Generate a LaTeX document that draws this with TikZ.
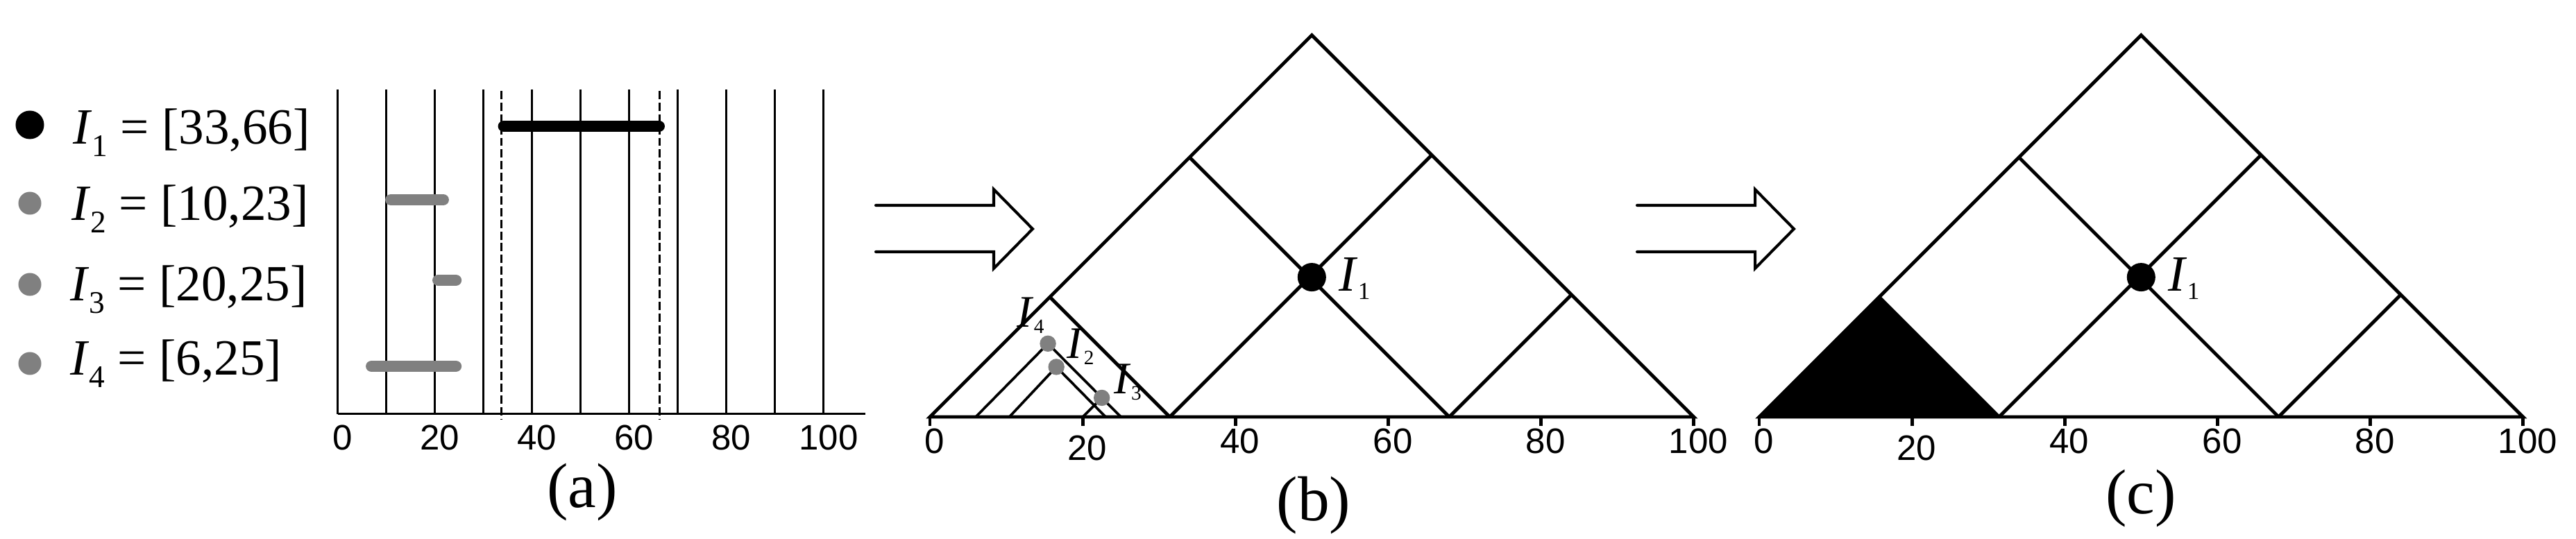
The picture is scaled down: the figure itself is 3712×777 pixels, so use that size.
\documentclass[tikz,border=0pt]{standalone}
\usepackage{fontspec}
\setmainfont{Liberation Serif}
\setsansfont{Liberation Sans}
\usepackage{graphicx}
\definecolor{ivgray}{gray}{0.5}
\newcommand{\Iv}[3]{\textit{I}\raisebox{#3}{\scalebox{#2}{#1}}}

\begin{document}
\begin{tikzpicture}[x=0.01cm, y=-0.01cm,
		vline/.style={line width=0.85pt},
		dline/.style={line width=0.85pt, dash pattern=on 3.4pt off 1.4pt},
		tri/.style={line width=1.4pt},
		ivline/.style={line width=1.05pt},
		ivbar/.style={line width=4.8pt, line cap=round},
		harrow/.style={line width=1.15pt, line cap=round},
		dotb/.style={circle, fill=black, inner sep=0pt, minimum size=0.41cm},
		dotl/.style={circle, fill=ivgray, inner sep=0pt, minimum size=0.33cm},
		dotg/.style={circle, fill=ivgray, inner sep=0pt, minimum size=0.234cm},
		lgd/.style={inner sep=0pt, anchor=base west, font=\fontsize{20.8}{24}\selectfont},
		ilbl/.style={inner sep=0pt, anchor=base west, font=\fontsize{18.5}{21}\selectfont},
		ticklbl/.style={inner sep=0pt, anchor=base, font=\sffamily\fontsize{14.5}{17}\selectfont},
		panel/.style={inner sep=0pt, anchor=base, font=\fontsize{26}{30}\selectfont}]
	\useasboundingbox (0,0) rectangle (3712,777);
	\node[dotb] (bul1) at (43,180) {};
	\node[dotl] (bul2) at (43,293) {};
	\node[dotl] (bul3) at (43,410) {};
	\node[dotl] (bul4) at (43,524) {};
	\node[lgd] (leg1) at (105,208) {\Iv{1}{.62}{-.24em} = [33,66]};
	\node[lgd] (leg2) at (103,318) {\Iv{2}{.62}{-.24em} = [10,23]};
	\node[lgd] (leg3) at (101,434) {\Iv{3}{.62}{-.24em} = [20,25]};
	\node[lgd] (leg4) at (101,541) {\Iv{4}{.62}{-.24em} = [6,25]};
	\begin{scope}[shift={(486.5,0)}, x=0.07cm]
		\foreach \v in {0,10,...,100}
			\draw[vline] (\v,129) -- (\v,597);
		\draw[vline] (0,597) -- (108.5,597);
		\draw[dline] (33.7,131) -- (33.7,605);
		\draw[dline] (66.2,131) -- (66.2,605);
		\draw[ivbar] (34.2,182) -- (66.1,182);
		\draw[ivbar, ivgray] (11,288) -- (21.7,288);
		\draw[ivbar, ivgray] (20.7,404) -- (24.3,404);
		\draw[ivbar, ivgray] (7,528) -- (24.3,528);
		\foreach \v in {0,20,...,100}
			\node[ticklbl] (ta\v) at (\v+1,649) {\v};
	\end{scope}
	\node[panel] (capa) at (839,732) {(a)};
	\foreach \s in {1262,2359}
		\draw[harrow] (\s,296) -- ++(170,0) -- ++(0,-23) -- ++(56,57) -- ++(-56,57) -- ++(0,-24) -- ++(-170,0);
	\begin{scope}[shift={(2535,601)}, x=0.11cm, y=0.11cm]
		\fill (0,0) -- (15.7,15.7) -- (31.4,0) -- cycle;
	\end{scope}
	\foreach \p/\sx in {b/1340,c/2535}{
		\begin{scope}[shift={(\sx,601)}, x=0.11cm, y=0.11cm]
			\draw[tri] (0,0) -- (50,50) -- (100,0) -- cycle;
			\draw[tri] (31.4,0) -- (65.7,34.3);
			\draw[tri] (68,0) -- (34,34);
			\draw[tri] (15.7,15.7) -- (31.4,0);
			\draw[tri] (68,0) -- (84,16);
			\foreach \v/\h in {0/-4.73,20/-5.7,40/-4.73,60/-4.73,80/-4.73,100/-4.73}{
				\draw[tri] (\v,0) -- (\v,-1.2);
				\node[ticklbl] (t\p\v) at (\v+0.6,\h) {\v};
			}
			\node[dotb] (\p I1) at (50,18.3) {};
			\node[lgd] (\p lbl1) at (53.5,16.45) {\Iv{1}{.48}{-.155em}};
		\end{scope}
	}
	\begin{scope}[shift={(1340,601)}, x=0.11cm, y=0.11cm]
		\draw[ivline] (6,0) -- (15.45,9.6) -- (25,0);
		\draw[ivline] (10.4,0) -- (16.55,6.55) -- (23,0);
		\draw[ivline] (20,0) -- (22.5,2.5);
		\node[dotg] (bI4) at (15.45,9.6) {};
		\node[dotg] (bI2) at (16.55,6.55) {};
		\node[dotg] (bI3) at (22.5,2.5) {};
		\node[ilbl] (blbl4) at (11.36,11.73) {\Iv{4}{.45}{-.13em}};
		\node[ilbl] (blbl2) at (17.9,7.64) {\Iv{2}{.45}{-.13em}};
		\node[ilbl] (blbl3) at (24.1,3.0) {\Iv{3}{.45}{-.13em}};
	\end{scope}
	\node[panel] (capb) at (1893,751) {(b)};
	\node[panel] (capc) at (3085,741) {(c)};
\end{tikzpicture}
\end{document}
